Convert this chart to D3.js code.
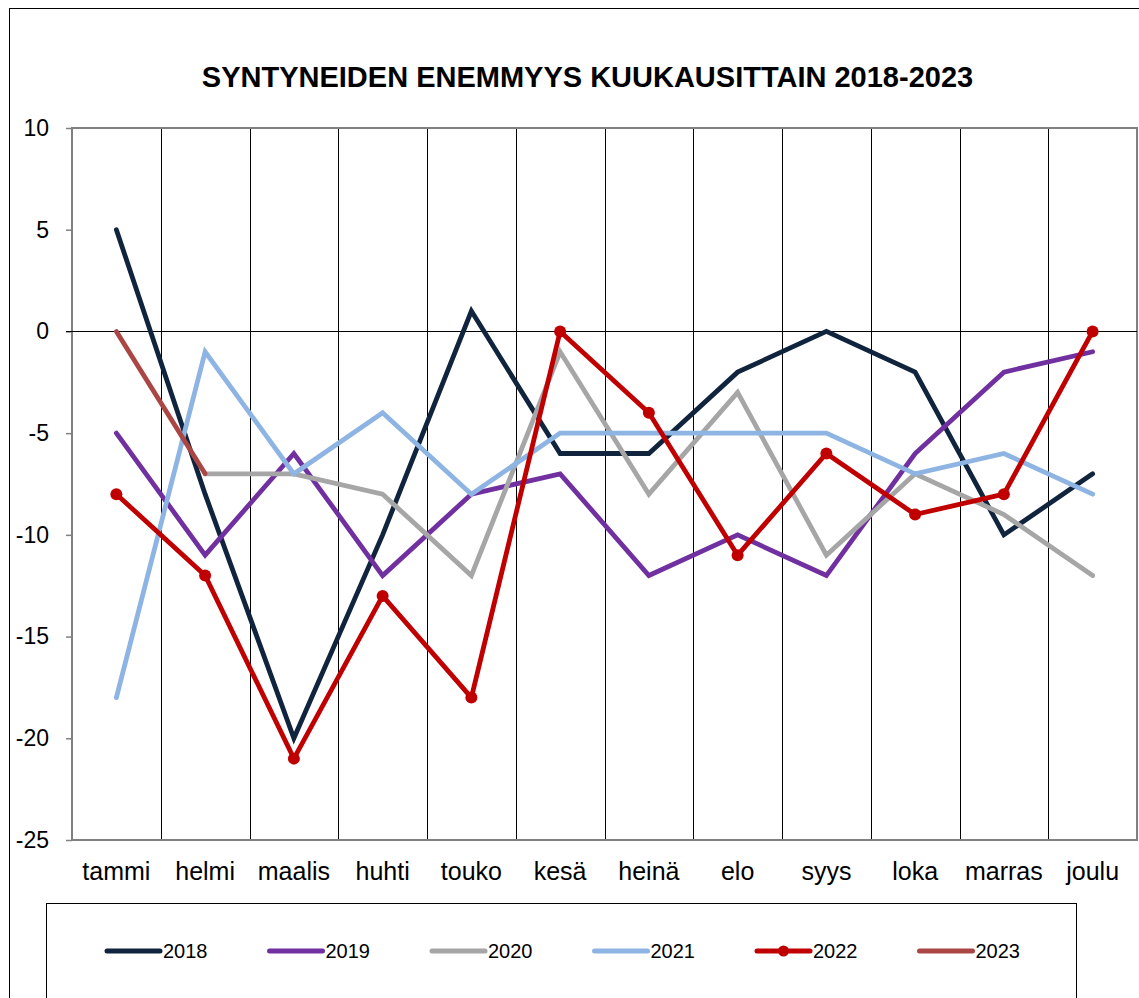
<!DOCTYPE html>
<html>
<head>
<meta charset="utf-8">
<script src="https://cdn.jsdelivr.net/npm/d3@7"></script>
<style>
  body { margin: 0; background: #fff; }
  svg { display: block; font-family: "Liberation Sans", Arial, sans-serif; }
</style>
</head>
<body>
<script>
// kuukaudet
var months = ["tammi", "helmi", "maalis", "huhti", "touko", "kesä", "heinä", "elo", "syys", "loka", "marras", "joulu"];
var years = ["2018", "2019", "2020", "2021", "2022", "2023"];
var yTicks = [10, 5, 0, -5, -10, -15, -20, -25];

// syntyneiden enemmyys per vuosi
var v2018 = [5, -8, -20, -10, 1, -6, -6, -2, 0, -2, -10, -7];
var v2019 = [-5, -11, -6, -12, -8, -7, -12, -10, -12, -6, -2, -1];
var v2020 = [null, -7, -7, -8, -12, -1, -8, -3, -11, -7, -9, -12];
var v2021 = [-18, -1, -7, -4, -8, -5, -5, -5, -5, -7, -6, -8];
var v2022 = [-8, -12, -21, -13, -18, 0, -4, -11, -6, -9, -8, 0];
var v2023 = [0, -7];

var colors = ["#10243E", "#7030A0", "#A6A6A6", "#8EB4E3", "#C00000", "#AA4643"];
var seriesValues = [v2018, v2019, v2020, v2021, v2022, v2023];

function draw() {
    var W = 1139, H = 998;
    var pLeft = 72, pRight = 1137, pTop = 128, pBottom = 840;

    var svg = d3.select("body").append("svg")
        .attr("width", W)
        .attr("height", H);

    // ulkoreunus
    svg.append("rect")
        .attr("x", 9.5).attr("y", 8.5)
        .attr("width", 1200).attr("height", 1100)
        .attr("fill", "none").attr("stroke", "#000").attr("stroke-width", 1);

    var x = d3.scaleBand().domain(months).range([pLeft, pRight]).padding(0);
    var y = d3.scaleLinear().domain([-25, 10]).range([pBottom, pTop]);

    // pystyviivat kuukausien väliin
    svg.append("g").selectAll("line")
        .data(months.slice(1))
        .enter().append("line")
        .attr("x1", function (d) { return Math.round(x(d)) + 0.5; })
        .attr("x2", function (d) { return Math.round(x(d)) + 0.5; })
        .attr("y1", pTop).attr("y2", pBottom)
        .attr("stroke", "#000").attr("stroke-width", 1);

    // piirtoalueen reunat
    svg.append("rect")
        .attr("x", pLeft).attr("y", pTop)
        .attr("width", pRight - pLeft).attr("height", pBottom - pTop)
        .attr("fill", "none").attr("stroke", "#808080").attr("stroke-width", 2);

    // y-akseli (tavallinen yhdysmerkki miinuksena)
    var yAxis = d3.axisLeft(y).tickValues(yTicks).tickSize(6)
        .tickFormat(function (d) { return String(d); });
    var gy = svg.append("g").attr("transform", "translate(" + pLeft + ",0)").call(yAxis);
    gy.select(".domain").remove();
    gy.selectAll(".tick line").attr("stroke", "#808080").attr("stroke-width", 1.5);
    gy.selectAll(".tick text")
        .attr("x", -23)
        .attr("font-size", 23)
        .attr("font-family", "Liberation Sans, Arial, sans-serif")
        .attr("fill", "#000");

    // nollaviiva
    svg.append("line")
        .attr("x1", pLeft - 6).attr("x2", pRight)
        .attr("y1", Math.round(y(0)) + 0.5).attr("y2", Math.round(y(0)) + 0.5)
        .attr("stroke", "#000").attr("stroke-width", 1);

    // kuukausien nimet
    var xAxis = d3.axisBottom(x).tickSize(0);
    var gx = svg.append("g").attr("transform", "translate(0," + pBottom + ")").call(xAxis);
    gx.select(".domain").remove();
    gx.selectAll(".tick text")
        .attr("y", 22)
        .attr("font-size", 25)
        .attr("font-family", "Liberation Sans, Arial, sans-serif")
        .attr("fill", "#000");

    // viivat
    var line = d3.line()
        .defined(function (d) { return d != null; })
        .x(function (d, i) { return x(months[i]) + x.bandwidth() / 2; })
        .y(function (d) { return y(d); });

    seriesValues.forEach(function (vals, k) {
        svg.append("path")
            .datum(vals)
            .attr("d", line)
            .attr("fill", "none")
            .attr("stroke", colors[k])
            .attr("stroke-width", 4.8)
            .attr("stroke-linejoin", "miter")
            .attr("stroke-linecap", "round");
    });

    // 2022 pisteet
    svg.append("g").selectAll("circle")
        .data(v2022)
        .enter().append("circle")
        .attr("cx", function (d, i) { return x(months[i]) + x.bandwidth() / 2; })
        .attr("cy", function (d) { return y(d); })
        .attr("r", 6)
        .attr("fill", colors[4]);

    // otsikko
    svg.append("text")
        .attr("x", 587.5).attr("y", 87)
        .attr("text-anchor", "middle")
        .attr("font-size", 29)
        .attr("font-weight", "bold")
        .attr("font-family", "Liberation Sans, Arial, sans-serif")
        .text("SYNTYNEIDEN ENEMMYYS KUUKAUSITTAIN 2018-2023");

    // selite
    svg.append("rect")
        .attr("x", 46.5).attr("y", 903.5)
        .attr("width", 1030).attr("height", 120)
        .attr("fill", "#fff").attr("stroke", "#000").attr("stroke-width", 1);

    var legend = svg.append("g").selectAll("g")
        .data(years)
        .enter().append("g")
        .attr("transform", function (d, i) { return "translate(" + (107 + i * 162.5) + ",951)"; });

    legend.append("line")
        .attr("x1", 0).attr("x2", 53)
        .attr("y1", 0).attr("y2", 0)
        .attr("stroke", function (d, i) { return colors[i]; })
        .attr("stroke-width", 5)
        .attr("stroke-linecap", "round");

    legend.filter(function (d) { return d === "2022"; })
        .append("circle")
        .attr("cx", 26.5).attr("cy", 0).attr("r", 5.5)
        .attr("fill", colors[4]);

    legend.append("text")
        .attr("x", 56).attr("y", 7)
        .attr("font-size", 20)
        .attr("font-family", "Liberation Sans, Arial, sans-serif")
        .text(function (d) { return d; });
}

draw();
</script>
</body>
</html>
